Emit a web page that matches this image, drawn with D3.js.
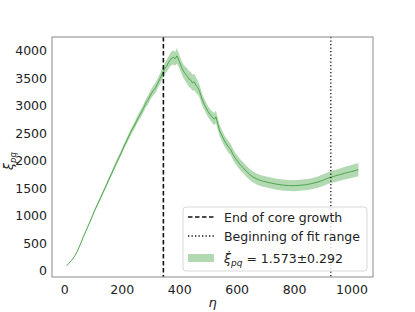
<!DOCTYPE html>
<html>
<head>
<meta charset="utf-8">
<script src="https://cdn.jsdelivr.net/npm/d3@7"></script>
<style>
  body { margin: 0; background: #fff; }
  text { font-family: "DejaVu Sans", sans-serif; }
</style>
</head>
<body>
<script>
/*** DATA ***/
let eta = [8, 15, 25, 35, 45, 55, 65, 75, 85, 95, 105, 115, 125, 135, 145, 155, 165, 175, 185, 195,
  205, 215, 225, 235, 245, 255, 265, 275, 285, 292, 300, 310, 318, 326, 334, 342, 350, 356, 362, 368,
  374, 380, 386, 392, 398, 404, 410, 416, 422, 428, 434, 440, 446, 452, 458, 464, 470, 476, 482, 488,
  494, 500, 508, 516, 522, 528, 534, 540, 548, 556, 564, 572, 580, 588, 596, 604, 614, 624, 634, 644,
  656, 670, 685, 700, 720, 740, 760, 780, 800, 820, 840, 860, 880, 900, 920, 940, 960, 980, 1000, 1024];

let xi = [90, 130, 190, 255, 350, 470, 600, 720, 840, 960, 1090, 1200, 1310, 1430, 1540, 1660, 1770, 1890, 2000, 2110,
  2230, 2340, 2450, 2560, 2650, 2760, 2850, 2950, 3060, 3110, 3200, 3280, 3330, 3420, 3500, 3600, 3680, 3720, 3780, 3830,
  3870, 3880, 3860, 3910, 3840, 3760, 3680, 3620, 3580, 3540, 3490, 3470, 3420, 3440, 3380, 3340, 3280, 3180, 3090, 3020,
  2960, 2900, 2840, 2790, 2760, 2800, 2680, 2560, 2470, 2380, 2310, 2250, 2200, 2110, 2040, 1990, 1920, 1870, 1810, 1760,
  1710, 1670, 1640, 1620, 1595, 1575, 1560, 1550, 1548, 1555, 1565, 1585, 1610, 1645, 1690, 1720, 1750, 1780, 1805, 1840];

let err = [5, 6, 8, 10, 12, 14, 16, 18, 20, 22, 25, 27, 30, 32, 34, 36, 40, 42, 45, 48,
  50, 52, 55, 58, 62, 65, 70, 72, 75, 85, 80, 85, 95, 90, 95, 100, 105, 110, 115, 120,
  125, 130, 125, 145, 125, 120, 120, 125, 130, 140, 145, 150, 145, 150, 140, 130, 120, 110, 105, 100,
  100, 100, 100, 105, 110, 115, 110, 105, 100, 100, 100, 105, 100, 100, 100, 100, 100, 100, 100, 100,
  100, 100, 100, 100, 100, 100, 100, 100, 100, 100, 100, 100, 102, 105, 108, 110, 112, 115, 118, 120];

let coreEnd = 345;     /* fin de la croissance du coeur */
let fitStart = 928;    /* début de la plage de fit */
let xTicks = [0, 200, 400, 600, 800, 1000];
let yTicks = [0, 500, 1000, 1500, 2000, 2500, 3000, 3500, 4000];
let slopeLabel = " = 1.573±0.292";

let data = eta.map((e, i) => ({ eta: e, xi: xi[i], err: err[i] }));

/*** GRAPH ***/
let W = 415, H = 312;
let margin = { top: 37, right: 42, bottom: 35, left: 52 },
  width = W - margin.left - margin.right,
  height = H - margin.top - margin.bottom;

let green = "#008000";

/* marges de 5% comme matplotlib */
let xMin = d3.min(eta), xMax = d3.max(eta);
let xPad = (xMax - xMin) * 0.05;
let yMin = d3.min(data, d => d.xi - d.err), yMax = d3.max(data, d => d.xi + d.err);
let yPad = (yMax - yMin) * 0.05;

let x = d3.scaleLinear().domain([xMin - xPad, xMax + xPad]).range([0, width]);
let y = d3.scaleLinear().domain([yMin - yPad, yMax + yPad]).range([height, 0]);

let svg = d3.select("body").append("svg")
  .attr("width", W)
  .attr("height", H)
  .append("g")
  .attr("transform", "translate(" + margin.left + "," + margin.top + ")");

/* bande d'erreur */
svg.append("path")
  .datum(data)
  .attr("fill", green)
  .attr("fill-opacity", 0.3)
  .attr("d", d3.area()
    .x(d => x(d.eta))
    .y0(d => y(d.xi - d.err))
    .y1(d => y(d.xi + d.err)));

/* courbe */
svg.append("path")
  .datum(data)
  .attr("fill", "none")
  .attr("stroke", green)
  .attr("stroke-opacity", 0.7)
  .attr("stroke-width", 0.8)
  .attr("d", d3.line().x(d => x(d.eta)).y(d => y(d.xi)));

/* lignes verticales */
svg.append("line")
  .attr("x1", x(coreEnd)).attr("x2", x(coreEnd))
  .attr("y1", 0).attr("y2", height)
  .attr("stroke", "#111")
  .attr("stroke-width", 1.6)
  .attr("stroke-dasharray", "4.5,2.5");

svg.append("line")
  .attr("x1", x(fitStart)).attr("x2", x(fitStart))
  .attr("y1", 0).attr("y2", height)
  .attr("stroke", "#111")
  .attr("stroke-width", 1.3)
  .attr("stroke-dasharray", "1.3,2.2");

/* axes */
let xAxis = svg.append("g")
  .attr("transform", "translate(0," + height + ")")
  .call(d3.axisBottom(x).tickValues(xTicks).tickSize(0).tickPadding(8).tickFormat(d3.format("d")));
let yAxis = svg.append("g")
  .call(d3.axisLeft(y).tickValues(yTicks).tickSize(0).tickPadding(5).tickFormat(d3.format("d")));

[xAxis, yAxis].forEach(a => {
  a.select(".domain").remove();
  a.selectAll("text").style("font-size", "12.5px").attr("fill", "#222").style("font-family", "DejaVu Sans");
});

/* cadre */
svg.append("rect")
  .attr("width", width).attr("height", height)
  .attr("fill", "none")
  .attr("stroke", "#8a8a8a")
  .attr("stroke-width", 1);

/* titres des axes */
svg.append("text")
  .attr("x", width / 2)
  .attr("y", height + 30)
  .attr("text-anchor", "middle")
  .style("font-size", "13px")
  .style("font-style", "italic")
  .attr("fill", "#222")
  .text("η");

let yl = svg.append("text")
  .attr("transform", "translate(" + (-39) + "," + (height / 2 + 4) + ") rotate(-90)")
  .attr("text-anchor", "middle")
  .style("font-size", "12.5px")
  .attr("fill", "#222");
yl.append("tspan").style("font-style", "italic").text("ξ");
yl.append("tspan").style("font-style", "italic").style("font-size", "8.5px").attr("dy", 2.5).text("pq");

/* légende */
let lg = svg.append("g").attr("transform", "translate(" + (183 - margin.left) + "," + (207 - margin.top) + ")");
lg.append("rect")
  .attr("width", 184).attr("height", 64)
  .attr("rx", 3)
  .attr("fill", "#fff").attr("fill-opacity", 0.8)
  .attr("stroke", "#d8d8d8");

let rows = [10, 29, 51];
lg.append("line").attr("x1", 5).attr("x2", 31).attr("y1", rows[0]).attr("y2", rows[0])
  .attr("stroke", "#111").attr("stroke-width", 1.6).attr("stroke-dasharray", "4.5,2.5");
lg.append("line").attr("x1", 5).attr("x2", 31).attr("y1", rows[1]).attr("y2", rows[1])
  .attr("stroke", "#111").attr("stroke-width", 1.3).attr("stroke-dasharray", "1.3,2.2");
lg.append("rect").attr("x", 5).attr("y", rows[2] - 4).attr("width", 26).attr("height", 8)
  .attr("fill", green).attr("fill-opacity", 0.3);

let labels = ["End of core growth", "Beginning of fit range"];
labels.forEach((t, i) => {
  lg.append("text")
    .attr("x", 41).attr("y", rows[i]).attr("dy", "0.36em")
    .style("font-size", "12.5px").attr("fill", "#222")
    .text(t);
});
let lt = lg.append("text")
  .attr("x", 41).attr("y", rows[2]).attr("dy", "0.36em")
  .style("font-size", "12.5px").attr("fill", "#222");
lt.append("tspan").style("font-style", "italic").text("ξ\u0307");
lt.append("tspan").style("font-style", "italic").style("font-size", "9px").attr("dy", 3).text("pq");
lt.append("tspan").attr("dy", -3).text(slopeLabel);
</script>
</body>
</html>
